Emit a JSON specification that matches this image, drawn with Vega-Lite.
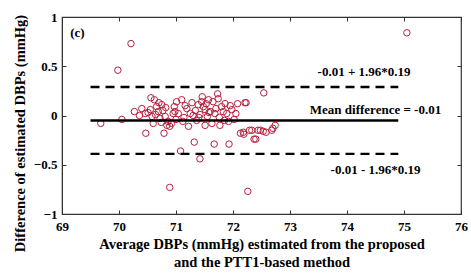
{
  "$schema": "https://vega.github.io/schema/vega-lite/v6.json",
  "width": 399,
  "height": 197,
  "autosize": {"type": "none"},
  "padding": {"left": 62, "top": 17, "right": 10, "bottom": 63},
  "background": "white",
  "config": {
    "view": {"stroke": "#333", "strokeWidth": 1.2},
    "font": "Liberation Serif",
    "axis": {
      "grid": false,
      "domainColor": "#333",
      "tickColor": "#333",
      "tickSize": -4,
      "labelFont": "Liberation Serif",
      "labelFontWeight": "bold",
      "labelFontSize": 13,
      "labelColor": "#000",
      "titleFont": "Liberation Serif",
      "titleFontWeight": "bold",
      "titleFontSize": 14.5,
      "titleColor": "#000"
    }
  },
  "datasets": {
    "pts": [
      {"avg": 69.68, "diff": -0.08}, {"avg": 70.05, "diff": -0.04}, {"avg": 69.98, "diff": 0.46}, {"avg": 70.21, "diff": 0.73},
      {"avg": 75.05, "diff": 0.84}, {"avg": 72.54, "diff": 0.23}, {"avg": 70.89, "diff": -0.73}, {"avg": 72.26, "diff": -0.77},
      {"avg": 71.08, "diff": -0.36}, {"avg": 71.42, "diff": -0.44}, {"avg": 71.32, "diff": -0.27}, {"avg": 71.67, "diff": -0.29},
      {"avg": 71.93, "diff": -0.29}, {"avg": 70.27, "diff": 0.04}, {"avg": 70.47, "diff": -0.18}, {"avg": 70.56, "diff": 0.18},
      {"avg": 70.62, "diff": 0.16}, {"avg": 70.40, "diff": 0.07}, {"avg": 70.46, "diff": 0.02}, {"avg": 70.51, "diff": 0.03},
      {"avg": 70.66, "diff": 0.09}, {"avg": 70.69, "diff": 0.04}, {"avg": 70.60, "diff": -0.08}, {"avg": 70.75, "diff": 0.11},
      {"avg": 70.81, "diff": -0.01}, {"avg": 70.79, "diff": -0.18}, {"avg": 70.86, "diff": -0.06}, {"avg": 70.89, "diff": -0.11},
      {"avg": 70.84, "diff": -0.10}, {"avg": 70.72, "diff": -0.03}, {"avg": 70.95, "diff": 0.02}, {"avg": 70.55, "diff": 0.06},
      {"avg": 70.58, "diff": -0.01}, {"avg": 70.64, "diff": 0.01}, {"avg": 70.70, "diff": 0.13}, {"avg": 70.77, "diff": 0.05},
      {"avg": 70.92, "diff": -0.08}, {"avg": 70.82, "diff": 0.08}, {"avg": 70.74, "diff": -0.07}, {"avg": 70.36, "diff": 0.00},
      {"avg": 71.10, "diff": 0.16}, {"avg": 70.98, "diff": 0.04}, {"avg": 71.04, "diff": 0.02}, {"avg": 71.19, "diff": 0.07},
      {"avg": 71.25, "diff": 0.02}, {"avg": 71.39, "diff": 0.11}, {"avg": 71.46, "diff": 0.19}, {"avg": 71.51, "diff": 0.06},
      {"avg": 71.57, "diff": 0.16}, {"avg": 71.65, "diff": 0.14}, {"avg": 71.73, "diff": 0.22}, {"avg": 71.68, "diff": 0.02},
      {"avg": 71.80, "diff": 0.09}, {"avg": 71.86, "diff": 0.12}, {"avg": 71.89, "diff": 0.02}, {"avg": 71.98, "diff": 0.06},
      {"avg": 72.08, "diff": 0.12}, {"avg": 72.21, "diff": 0.13}, {"avg": 72.02, "diff": -0.04}, {"avg": 71.22, "diff": -0.11},
      {"avg": 71.51, "diff": -0.10}, {"avg": 71.63, "diff": -0.08}, {"avg": 71.77, "diff": -0.10}, {"avg": 71.92, "diff": -0.06},
      {"avg": 72.18, "diff": -0.17}, {"avg": 71.30, "diff": 0.00}, {"avg": 71.00, "diff": -0.04}, {"avg": 71.14, "diff": -0.02},
      {"avg": 71.34, "diff": 0.05}, {"avg": 71.42, "diff": 0.01}, {"avg": 71.48, "diff": 0.09}, {"avg": 71.55, "diff": -0.01},
      {"avg": 71.60, "diff": 0.04}, {"avg": 71.70, "diff": 0.07}, {"avg": 71.76, "diff": -0.02}, {"avg": 71.83, "diff": 0.04},
      {"avg": 71.95, "diff": 0.10}, {"avg": 72.05, "diff": 0.02}, {"avg": 71.16, "diff": 0.10}, {"avg": 71.28, "diff": 0.13},
      {"avg": 71.36, "diff": -0.05}, {"avg": 71.45, "diff": 0.14}, {"avg": 71.58, "diff": 0.03}, {"avg": 71.85, "diff": -0.05},
      {"avg": 72.13, "diff": -0.18}, {"avg": 72.19, "diff": -0.19}, {"avg": 72.33, "diff": -0.15}, {"avg": 72.37, "diff": -0.24},
      {"avg": 72.44, "diff": -0.15}, {"avg": 72.53, "diff": -0.16}, {"avg": 72.58, "diff": -0.17}, {"avg": 72.68, "diff": -0.15},
      {"avg": 72.74, "diff": -0.10}, {"avg": 72.70, "diff": -0.13}, {"avg": 72.40, "diff": -0.24}, {"avg": 72.29, "diff": -0.15},
      {"avg": 72.23, "diff": 0.13}, {"avg": 72.48, "diff": -0.15}, {"avg": 71.12, "diff": -0.06}, {"avg": 70.97, "diff": 0.09},
      {"avg": 71.01, "diff": 0.14}, {"avg": 71.40, "diff": -0.02}, {"avg": 71.74, "diff": 0.17}, {"avg": 71.53, "diff": 0.12}
    ],
    "lines": [
      {"x1": 69.5, "x2": 74.9, "y": 0.29, "kind": "limit"},
      {"x1": 69.5, "x2": 74.9, "y": -0.39, "kind": "limit"},
      {"x1": 69.5, "x2": 74.9, "y": -0.05, "kind": "mean"}
    ],
    "labels": [
      {"x": 74.3, "y": 0.445, "t": "-0.01 + 1.96*0.19"},
      {"x": 74.5, "y": 0.055, "t": "Mean difference = -0.01"},
      {"x": 74.5, "y": -0.55, "t": "-0.01 - 1.96*0.19"},
      {"x": 69.27, "y": 0.84, "t": "(c)"}
    ]
  },
  "layer": [
    {
      "data": {"name": "pts"},
      "mark": {"type": "point", "shape": "circle", "filled": false, "stroke": "#b5203f", "strokeWidth": 1, "size": 42, "opacity": 1},
      "encoding": {
        "x": {
          "field": "avg", "type": "quantitative",
          "scale": {"domain": [69, 76], "nice": false, "zero": false},
          "axis": {"values": [69, 70, 71, 72, 73, 74, 75, 76], "labelPadding": 10, "labelFlush": false, "format": "~g",
                   "title": ["Average DBPs (mmHg) estimated from the proposed", "and the PTT1-based method"], "titlePadding": 4, "titleLineHeight": 18}
        },
        "y": {
          "field": "diff", "type": "quantitative",
          "scale": {"domain": [-1, 1], "nice": false, "zero": false},
          "axis": {"values": [-1, -0.5, 0, 0.5, 1], "labelPadding": 9, "labelFlush": false, "format": "~g",
                   "title": "Difference of estimated DBPs (mmHg)", "titleX": -42, "titleY": 116, "titleAngle": -90, "titleBaseline": "middle", "titleAlign": "center"}
        }
      }
    },
    {
      "data": {"name": "lines"},
      "transform": [{"filter": "datum.kind == 'limit'"}],
      "mark": {"type": "rule", "color": "#000", "strokeWidth": 2.4, "strokeDash": [9, 6]},
      "encoding": {
        "x": {"field": "x1", "type": "quantitative", "axis": {"orient": "top", "values": [69, 70, 71, 72, 73, 74, 75, 76], "labels": false, "title": null, "domain": false}},
        "x2": {"field": "x2"},
        "y": {"field": "y", "type": "quantitative", "axis": {"orient": "right", "values": [-1, -0.5, 0, 0.5, 1], "labels": false, "title": null, "domain": false}}
      }
    },
    {
      "data": {"name": "lines"},
      "transform": [{"filter": "datum.kind == 'mean'"}],
      "mark": {"type": "rule", "color": "#000", "strokeWidth": 2.4},
      "encoding": {
        "x": {"field": "x1", "type": "quantitative", "axis": null},
        "x2": {"field": "x2"},
        "y": {"field": "y", "type": "quantitative", "axis": null}
      }
    },
    {
      "data": {"name": "labels"},
      "mark": {"type": "text", "font": "Liberation Serif", "fontWeight": "bold", "fontSize": 13, "color": "#000", "align": "center", "baseline": "middle"},
      "encoding": {
        "x": {"field": "x", "type": "quantitative", "axis": null},
        "y": {"field": "y", "type": "quantitative", "axis": null},
        "text": {"field": "t"}
      }
    }
  ],
  "resolve": {"axis": {"x": "independent", "y": "independent"}}
}
